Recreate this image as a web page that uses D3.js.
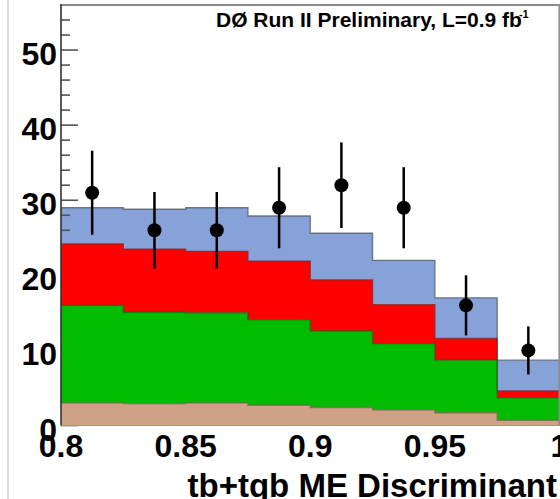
<!DOCTYPE html>
<html>
<head>
<meta charset="utf-8">
<script src="https://cdn.jsdelivr.net/npm/d3@7"></script>
<style>
  html, body { margin: 0; padding: 0; background: #fff; }
  svg { display: block; }
  text { font-family: "Liberation Sans", Arial, Helvetica, sans-serif; font-weight: bold; }
</style>
</head>
<body>
<svg id="chart" width="560" height="499"></svg>
<script>
// Bin lower edges of the discriminant histogram (bin width 0.025)
const binLow = [0.8, 0.825, 0.85, 0.875, 0.9, 0.925, 0.95, 0.975];
const binWidth = 0.025;

// Expected event yields per bin, stacked from bottom to top
const multijet = [3.0, 2.9, 3.0, 2.7, 2.4, 2.1, 1.7, 0.7];
const wjets    = [13.0, 12.2, 12.0, 11.4, 10.2, 8.8, 7.0, 3.0];
const ttbar    = [8.2, 8.4, 8.2, 7.8, 6.8, 5.2, 2.9, 0.9];
const signal   = [4.8, 5.3, 5.8, 6.0, 6.2, 5.9, 5.4, 4.1];

// Observed data and statistical uncertainties
const dataCounts = [31, 26, 26, 29, 32, 29, 16, 10];
const dataErrors = [5.6, 5.1, 5.1, 5.4, 5.7, 5.4, 4.0, 3.2];

const xTicks = [0.8, 0.85, 0.9, 0.95, 1.0];
const xTickLabels = ["0.8", "0.85", "0.9", "0.95", "1"];
const yMajor = [0, 10, 20, 30, 40, 50];
const yMinor = [2, 4, 6, 8, 12, 14, 16, 18, 22, 24, 26, 28, 32, 34, 36, 38, 42, 44, 46, 48, 52, 54];

const svg = d3.select("#chart");

const x = d3.scaleLinear().domain([0.8, 1.0]).range([61, 559.5]);
const y = d3.scaleLinear().domain([0, 56]).range([425.5, 5]);

// Outer canvas edge
svg.append("line").attr("x1", 8).attr("x2", 8).attr("y1", 0).attr("y2", 499)
  .attr("stroke", "#d0d0d0").attr("stroke-width", 1.5);

const keys = ["multijet", "wjets", "ttbar", "signal"];
const rows = binLow.map((b, i) => ({
  lo: b, multijet: multijet[i], wjets: wjets[i], ttbar: ttbar[i], signal: signal[i]
}));
// Extra row closes the last step at the upper edge
rows.push(Object.assign({}, rows[rows.length - 1], { lo: binLow[binLow.length - 1] + binWidth }));

const stacked = d3.stack().keys(keys)(rows);
const fills = { multijet: "#cfa186", wjets: "#00bb00", ttbar: "#ff0000", signal: "#86a2d8" };
const edges = { multijet: "#6e6a48", wjets: "#1f5a1f", ttbar: "#7a2a2a", signal: "#555b66" };

const area = d3.area().curve(d3.curveStepAfter)
  .x(d => x(d.data.lo)).y0(d => y(d[0])).y1(d => y(d[1]));
const topLine = d3.line().curve(d3.curveStepAfter)
  .x(d => x(d.data.lo)).y(d => y(d[1]));

function drawLayer(layer) {
  svg.append("path").attr("d", area(layer)).attr("fill", fills[layer.key]);
  svg.append("path").attr("d", topLine(layer)).attr("fill", "none")
    .attr("stroke", edges[layer.key]).attr("stroke-width", 1.3).attr("stroke-opacity", 0.8);
}

// Signal layer first, then the axis ticks, then the remaining backgrounds
drawLayer(stacked[3]);

const tickG = svg.append("g").attr("stroke", "#555").attr("stroke-width", 1.6);
yMajor.forEach(v => tickG.append("line")
  .attr("x1", x(0.8)).attr("x2", x(0.8) + 17).attr("y1", y(v)).attr("y2", y(v)));
yMinor.forEach(v => tickG.append("line")
  .attr("x1", x(0.8)).attr("x2", x(0.8) + 9).attr("y1", y(v)).attr("y2", y(v)));

drawLayer(stacked[2]);
drawLayer(stacked[1]);
drawLayer(stacked[0]);

// Bottom edge of the histogram
svg.append("line").attr("x1", x(0.8)).attr("x2", x(1.0)).attr("y1", y(0)).attr("y2", y(0))
  .attr("stroke", "#9a9a70").attr("stroke-width", 1.2);

// Frame
svg.append("line").attr("x1", x(0.8)).attr("x2", 560).attr("y1", 5).attr("y2", 5)
  .attr("stroke", "#8a8a8a").attr("stroke-width", 2);
svg.append("line").attr("x1", 559.2).attr("x2", 559.2).attr("y1", 5).attr("y2", y(0))
  .attr("stroke", "#8a8a8a").attr("stroke-width", 1.5);
svg.append("line").attr("x1", x(0.8)).attr("x2", x(0.8)).attr("y1", 4).attr("y2", y(0))
  .attr("stroke", "#333").attr("stroke-width", 1.6);

// Data points with error bars
const pts = svg.append("g");
dataCounts.forEach((n, i) => {
  const cx = x(binLow[i] + binWidth / 2);
  pts.append("line").attr("x1", cx).attr("x2", cx)
    .attr("y1", y(n - dataErrors[i])).attr("y2", y(n + dataErrors[i]))
    .attr("stroke", "#000").attr("stroke-width", 2.5);
  pts.append("circle").attr("cx", cx).attr("cy", y(n)).attr("r", 7).attr("fill", "#000");
});

// Y tick labels
svg.append("g").selectAll("text").data(yMajor).join("text")
  .attr("x", 57).attr("y", d => y(d) + 4)
  .attr("text-anchor", "end").attr("dominant-baseline", "central")
  .attr("font-size", 32).attr("fill", "#000")
  .text(d => d);

// X tick labels
svg.append("g").selectAll("text").data(xTicks).join("text")
  .attr("x", d => x(d)).attr("y", 457)
  .attr("text-anchor", "middle")
  .attr("font-size", 32).attr("fill", "#000")
  .text((d, i) => xTickLabels[i]);

// Axis title
svg.append("text").attr("x", 557).attr("y", 497).attr("text-anchor", "end")
  .attr("font-size", 33).attr("fill", "#000")
  .text("tb+tqb ME Discriminant");

// Experiment label
const lab = svg.append("text").attr("x", 216).attr("y", 27)
  .attr("font-size", 21).attr("fill", "#000");
lab.append("tspan").text("DØ Run II Preliminary, L=0.9 fb");
lab.append("tspan").attr("dx", -3).attr("dy", -9).attr("font-size", 11).text("-1");
</script>
</body>
</html>
